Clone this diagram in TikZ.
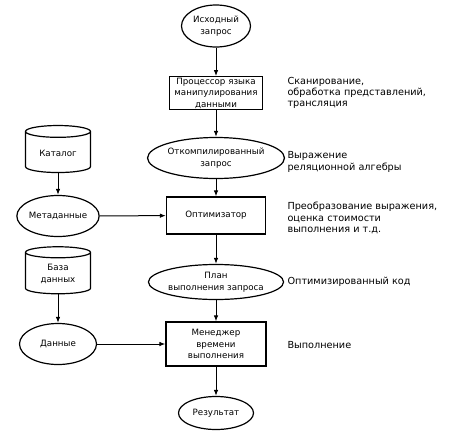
\documentclass[tikz,border=0pt]{standalone}
\usepackage{fontspec}
\setmainfont{DejaVu Sans}
\usetikzlibrary{shapes.geometric,arrows.meta}

\tikzset{
  stage/.style={draw,line width=1.2pt,align=center,inner sep=1pt},
  datum/.style={draw,ellipse,line width=1.2pt,align=center,inner sep=0pt},
  store/.style={draw,cylinder,shape border rotate=90,aspect=0.3,line width=1.2pt,
    minimum width=65pt,minimum height=47pt,align=center,inner sep=1pt},
  flow/.style={-{Latex[length=6pt,width=4.5pt]},line width=1pt},
  note/.style={anchor=west,align=left,font=\fontsize{9.7}{11.3}\selectfont}
}

\begin{document}
\begin{tikzpicture}[x=1pt,y=-1pt,font=\fontsize{8.7}{11.5}\selectfont]
    \useasboundingbox (0,0) rectangle (452,434);

    % main column
    \node[datum,minimum width=69pt,minimum height=42pt] (source) at (216,26) {Исходный\\запрос};
    \node[stage,minimum width=93pt,minimum height=32pt] (dml) at (216,93) {Процессор языка\\манипулирования\\данными};
    \node[datum,minimum width=115pt,minimum height=41pt] (compiled) at (216,158) {Откомпилированный\\запрос};
    \node[stage,minimum width=99pt,minimum height=37pt] (optimizer) at (216,215.5) {Оптимизатор};
    \node[datum,minimum width=113pt,minimum height=35pt] (plan) at (216,282) {План\\выполнения запроса};
    \node[stage,minimum width=100pt,minimum height=44pt] (runtime) at (216,344) {Менеджер\\времени\\выполнения};
    \node[datum,minimum width=75pt,minimum height=33pt] (result) at (216,413) {Результат};

    % left column
    \node[store] (catalog) at (58,153) {Каталог};
    \node[datum,minimum width=76pt,minimum height=41pt] (meta) at (58,216) {Метаданные};
    \node[store] (db) at (58,274) {База\\данных};
    \node[datum,minimum width=77pt,minimum height=41pt] (data) at (58,344) {Данные};

    % notes
    \node[note] (n1) at (284,93) {Сканирование,\\обработка представлений,\\трансляция};
    \node[note] (n2) at (284,162) {Выражение\\реляционной алгебры};
    \node[note] (n3) at (284,218) {Преобразование выражения,\\оценка стоимости\\выполнения и т.д.};
    \node[note] (n4) at (284,282) {Оптимизированный код};
    \node[note] (n5) at (284,345) {Выполнение};

    \draw[flow] (source) -- (dml);
    \draw[flow] (dml) -- (compiled);
    \draw[flow] (compiled) -- (optimizer);
    \draw[flow] (optimizer) -- (plan);
    \draw[flow] (plan) -- (runtime);
    \draw[flow] (runtime) -- (result);
    \draw[flow] (catalog) -- (meta);
    \draw[flow] (meta) -- (optimizer);
    \draw[flow] (db) -- (data);
    \draw[flow] (data) -- (runtime);
\end{tikzpicture}
\end{document}
